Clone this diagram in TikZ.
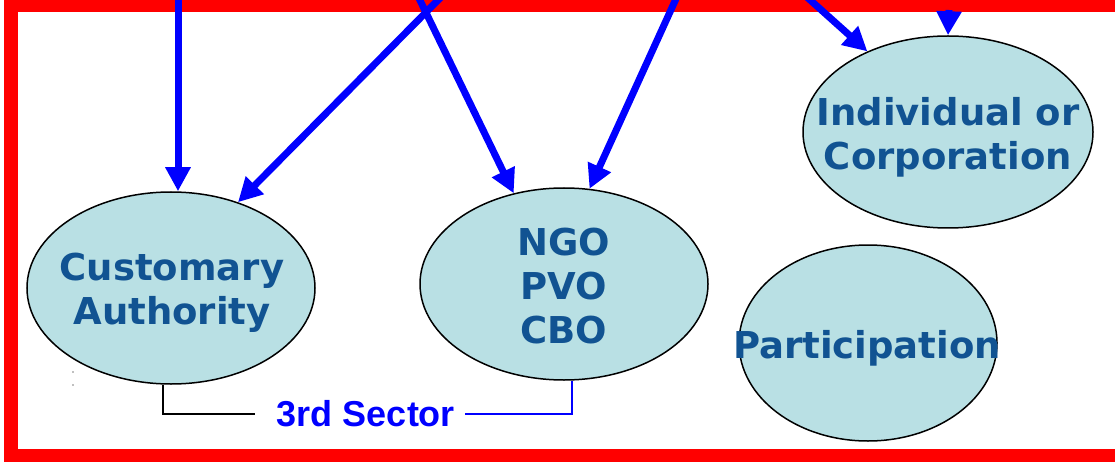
\documentclass[tikz,border=0pt]{standalone}
\usepackage{fontspec}
\newfontfamily\ovalfont{DejaVu Sans}
\newfontfamily\secfont{Liberation Sans}
\usetikzlibrary{shapes.geometric,arrows.meta}
\definecolor{ovalfill}{RGB}{185,224,228}
\definecolor{ovaltext}{RGB}{17,83,146}
\definecolor{framered}{RGB}{255,0,0}
\begin{document}
\begin{tikzpicture}[x=1pt,y=-1pt,
    oval/.style={ellipse,draw=black,line width=1.5pt,fill=ovalfill,inner sep=0pt},
    ovallabel/.style={font=\ovalfont\bfseries\fontsize{37}{44}\selectfont,text=ovaltext,align=center,inner sep=0pt},
    link/.style={draw=blue,line width=7pt,-{Triangle[length=24pt,width=24pt]}}]
  \useasboundingbox (0,0) rectangle (1115,462);
  \clip (0,0) rectangle (1115,462);
  \draw[framered,line width=14pt] (11,5) rectangle (1140,456);
  \node[oval,minimum width=288,minimum height=192] (cust) at (171,288) {};
  \node[oval,minimum width=288,minimum height=192] (ngo) at (564,284) {};
  \node[oval,minimum width=290,minimum height=192] (indiv) at (948,132) {};
  \node[oval,minimum width=258,minimum height=196] (part) at (868,343) {};
  \node[ovallabel] (custlbl) at (172,293) {Customary\\Authority};
  \node[ovallabel] (ngolbl) at (564,286) {NGO\\PVO\\CBO};
  \node[ovallabel] (indivlbl) at (948,137) {Individual or\\Corporation};
  \node[ovallabel] (partlbl) at (867,348) {Participation};
  \node[font=\secfont\bfseries\fontsize{36}{44}\selectfont,text=blue,inner sep=0pt] (sec) at (366,414) {3rd Sector};
  % sources above the frame
  \coordinate (s1) at (178,-10);
  \coordinate (s2) at (448,-10);
  \coordinate (s3) at (415,-10);
  \coordinate (s4) at (680,-10);
  \coordinate (s5) at (799,-10);
  \coordinate (s6) at (949,10);
  \begin{scope}[link]
    \draw (s1) -- (s1 |- cust.north);
    \draw (s2) -- (cust.52);
    \draw (s3) -- (ngo.119);
    \draw (s4) -- (ngo.75);
    \draw (s5) -- (indiv.135);
    \draw (s6) -- (indiv.north);
  \end{scope}
  \draw[black,line width=1.5pt] ([xshift=-8pt]cust.south) |- ([xshift=-22pt]sec.west);
  \draw[blue,line width=1.2pt] ([xshift=10pt]sec.east) -| ([xshift=8pt]ngo.south);
  \fill[gray] (73,372) circle (0.8);
  \fill[gray] (73,385) circle (0.8);
\end{tikzpicture}
\end{document}
